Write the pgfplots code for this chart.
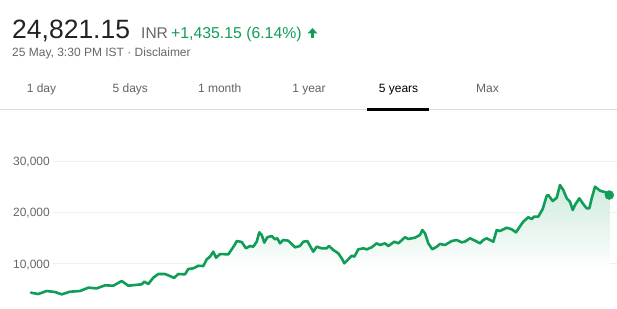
\documentclass[border=0pt]{standalone}
\usepackage{pgfplots}
\pgfplotsset{compat=1.18}
\usepackage{pgfplotstable}
\usepackage{fontspec}
\setmainfont{Liberation Sans}
\definecolor{ggreen}{HTML}{0F9D58}
\definecolor{gdark}{HTML}{222222}
\definecolor{ggray}{HTML}{666666}
\definecolor{gtab}{HTML}{5F6368}
\definecolor{gridc}{HTML}{EFEFEF}
\definecolor{sepc}{HTML}{DADCE0}
\colorlet{gtop}{ggreen!20!white}
\pgfdeclareverticalshading{myfade}{100bp}{color(0bp)=(white); color(25bp)=(white); color(40bp)=(white); color(75bp)=(gtop); color(100bp)=(gtop)}

\pgfplotstableread{
x v
31 4180
38.3 3920
46.7 4510
55 4310
61.7 3860
70 4370
80 4510
88.3 5160
96.7 5030
105 5620
113.3 5550
121.7 6470
128.3 5550
141.7 5820
144.3 6340
148.3 5880
153.3 7120
158.3 7840
165 7840
170 7450
174 7080
178.3 7840
185 7780
188.3 8820
193.3 8950
198.3 9460
203.3 9410
206.7 10720
210 11240
213.3 12220
216 11040
220 11760
228.3 11700
231.7 12680
235 13660
236.7 14310
241.7 14120
246 12880
250 13330
253.3 13200
256.7 14180
259.3 16020
261.7 15490
264.3 13990
267.3 15050
271.7 15300
275 14650
277.3 14850
280 13860
283.3 14510
288.3 14380
295 13080
300 13330
303.3 14180
307.3 14310
313.3 12220
316.7 13200
321.7 12880
326.7 12880
329 13330
333.3 12550
338.3 11900
341.7 10920
344.3 9940
348.3 10720
351.7 11430
354.3 11240
358.3 12680
363.3 12880
366.7 12680
371.7 13080
376.7 13860
380 13530
385 13860
388.3 13330
394.3 14180
398.3 13860
405 15050
408.3 14710
415 14970
420 15490
422.3 16470
425 15820
428.3 13860
432.3 12680
436.7 13200
440 13730
445 13530
451.7 14310
456.7 14510
461.7 14050
465 14200
470 14840
475 14380
480 13860
483.3 14510
486.7 14840
493.3 14180
496.7 16470
500 16270
506.7 16920
511.7 16600
516 16010
519.3 17000
523.3 18110
528.3 18970
531.7 18630
534 19090
538.3 19090
542.7 20590
546.7 23200
548.3 23330
552.7 22160
556.7 22800
560 25290
563.3 24310
566.7 22680
570 22020
572.7 20390
575 21370
579.3 22680
584 21370
586.7 20720
589.3 20720
591.7 22680
595 24960
600 24180
603.3 23980
606 23860
609.3 23330
}\series

\begin{document}
\begin{tikzpicture}[x=1pt,y=1pt]
\begin{axis}[at={(0,0)}, anchor=south west, scale only axis,
  width=617pt, height=308pt,
  xmin=0, xmax=617, ymin=1176.5, ymax=61568.6,
  axis lines=none, xtick=\empty, ytick=\empty, clip=false]
\draw[gridc, line width=1pt] (axis cs:53,30000) -- (axis cs:617,30000);
\draw[gridc, line width=1pt] (axis cs:53,20000) -- (axis cs:617,20000);
\draw[gridc, line width=1pt] (axis cs:53,10000) -- (axis cs:617,10000);
\addplot[draw=none, shading=myfade] table[x=x,y=v] {\series} \closedcycle;
\addplot[ggreen, line width=2.6pt, line join=round, line cap=round] table[x=x,y=v] {\series};
\addplot[only marks, mark=*, mark size=4.5pt, ggreen] coordinates {(609.3,23330)};
\end{axis}

% y labels
\node[anchor=base east, inner sep=0, text=ggray, font=\fontsize{12}{14}\selectfont] at (50,142.2) {30,000};
\node[anchor=base east, inner sep=0, text=ggray, font=\fontsize{12}{14}\selectfont] at (50,91.2) {20,000};
\node[anchor=base east, inner sep=0, text=ggray, font=\fontsize{12}{14}\selectfont] at (50,40) {10,000};

% header
\node[anchor=base west, inner sep=0, text=gdark, font=\fontsize{26.5}{30}\selectfont] at (12,269.7) {24,821.15};
\node[anchor=base west, inner sep=0, text=ggray, font=\fontsize{15.5}{18}\selectfont] at (141,269.7) {INR};
\node[anchor=base west, inner sep=0, text=ggreen, font=\fontsize{15.8}{18}\selectfont] at (171,269.7) {+1,435.15 (6.14\%)};
\fill[ggreen] (307.5,274.5) -- (312.5,280) -- (317.5,274.5) -- cycle;
\fill[ggreen] (311.2,269.5) rectangle (313.8,275);
\node[anchor=base west, inner sep=0, text=ggray, font=\fontsize{12}{14}\selectfont] at (12,251.5) {25 May, 3:30 PM IST · Disclaimer};

% tabs
\foreach \cx/\lab in {41.5/1 day, 130.3/5 days, 219.7/1 month, 309/1 year, 487.5/Max}{
  \node[anchor=base, inner sep=0, text=gtab, font=\fontsize{12}{14}\selectfont] at (\cx,215) {\lab};
}
\node[anchor=base, inner sep=0, text=black, font=\fontsize{12}{14}\selectfont] at (398.5,215) {5 years};
\draw[sepc, line width=1pt] (0,198) -- (617,198);
\fill[black] (367,196.5) rectangle (429,199.5);

\pgfresetboundingbox
\useasboundingbox (0,0) rectangle (617,308);
\end{tikzpicture}
\end{document}
